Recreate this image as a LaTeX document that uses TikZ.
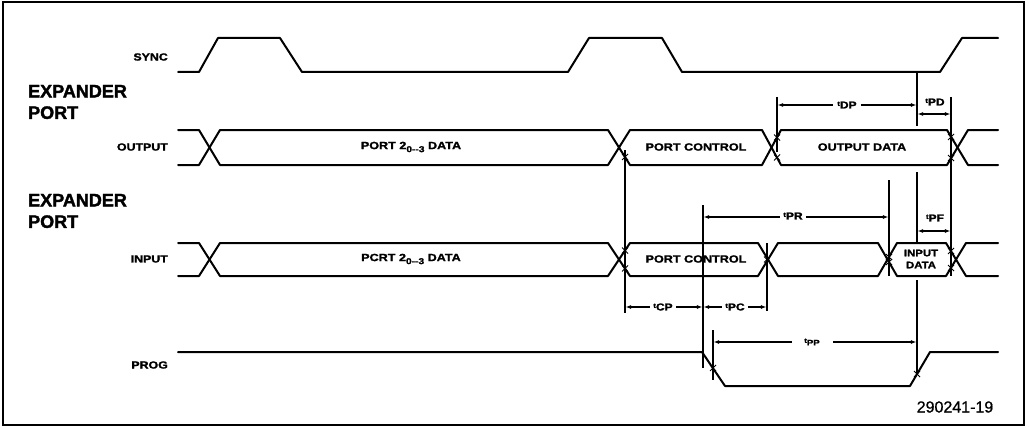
\documentclass[tikz,border=0pt]{standalone}
\usepackage{fontspec}
\setmainfont{Liberation Sans}
\newfontfamily\lblfont[FakeStretch=1.2,FakeBold=1.6]{Liberation Sans}
\newfontfamily\hdrfont[FakeBold=1.8]{Liberation Sans}
\newfontfamily\numfont[FakeBold=0.8]{Liberation Sans}
\usetikzlibrary{arrows.meta}
\tikzset{
  wave/.style={line width=2pt, line join=round, line cap=round},
  vline/.style={line width=1.2pt},
  dimboth/.style={line width=1.1pt, {Latex[length=5.5pt,width=4pt]}-{Latex[length=5.5pt,width=4pt]}},
  dimone/.style={line width=1.1pt, -{Latex[length=5.5pt,width=4pt]}},
  siglbl/.style={font=\lblfont\bfseries\fontsize{10.3}{11}\selectfont, inner sep=0pt, anchor=east},
  buslbl/.style={font=\lblfont\bfseries\fontsize{10.5}{12}\selectfont, inner sep=0pt, align=center},
  hdr/.style={font=\hdrfont\bfseries\fontsize{18}{21.5}\selectfont, inner sep=0pt, anchor=west, align=left},
  tlab/.style={font=\lblfont\bfseries\fontsize{10}{10}\selectfont, inner sep=0pt},
  xmk/.style={line width=0.9pt},
}
\newcommand\tsub[1]{\raisebox{2.5pt}{\fontsize{6.5}{6.5}\selectfont t}#1}
\newcommand\lowsub[1]{\raisebox{-3pt}{\fontsize{8.5}{8.5}\selectfont #1}}
\begin{document}
\begin{tikzpicture}[x=1pt,y=-1pt]
\useasboundingbox (0,0) rectangle (1029,428);
% frame
\draw[line width=1.8pt] (3,2) rectangle (1024,425);

% headings and signal names
\node[hdr] (hdr1) at (28,102) {EXPANDER\\PORT};
\node[hdr] (hdr2) at (28,211) {EXPANDER\\PORT};
\node[siglbl] (lsync) at (168,57) {SYNC};
\node[siglbl] (lout) at (168,147) {OUTPUT};
\node[siglbl] (lin) at (168,259) {INPUT};
\node[siglbl] (lprog) at (168,365) {PROG};

% SYNC
\draw[wave] (178,72) -- (199,72) -- (218,38) -- (280,38) -- (302,72) -- (568,72) -- (589,38) -- (662,38) -- (682,72) -- (940,72) -- (962,38) -- (998,38);

% OUTPUT bus
\draw[wave] (178,130) -- (199,130) -- (220,165) -- (608,165) -- (630,130) -- (762,130) -- (781,165) -- (947,165) -- (968,130) -- (998,130);
\draw[wave] (178,165) -- (199,165) -- (220,130) -- (608,130) -- (630,165) -- (762,165) -- (781,130) -- (947,130) -- (968,165) -- (998,165);
\node[buslbl] (od1) at (411,147) {PORT 2\lowsub{0--3} DATA};
\node[buslbl] (oc) at (696,147) {PORT CONTROL};
\node[buslbl] (odata) at (862,147) {OUTPUT DATA};

% INPUT bus
\draw[wave] (178,243) -- (199,243) -- (220,276) -- (608,276) -- (630,243) -- (758,243) -- (778,276) -- (878,276) -- (897,243) -- (946,243) -- (966,276) -- (998,276);
\draw[wave] (178,276) -- (199,276) -- (220,243) -- (608,243) -- (630,276) -- (758,276) -- (778,243) -- (878,243) -- (897,276) -- (946,276) -- (966,243) -- (998,243);
\node[buslbl] (id1) at (411,259) {PCRT 2\lowsub{0--3} DATA};
\node[buslbl] (ic) at (696,259) {PORT CONTROL};
\node[buslbl, font=\lblfont\bfseries\fontsize{9.5}{12}\selectfont] (idata) at (921,259) {INPUT\\DATA};

% PROG
\draw[wave] (178,352) -- (702,352) -- (725,386) -- (910,386) -- (930,352) -- (998,352);

% vertical reference lines
\coordinate (v1t) at (625,150); \coordinate (v1b) at (625,313);
\coordinate (v2t) at (703,205); \coordinate (v2b) at (703,368);
\coordinate (v3t) at (767,243); \coordinate (v3b) at (767,311);
\coordinate (v4t) at (889,180); \coordinate (v4b) at (889,276);
\coordinate (v5a) at (917,72);  \coordinate (v5b) at (917,126);
\coordinate (v5c) at (917,172); \coordinate (v5d) at (917,243);
\coordinate (v5e) at (917,280); \coordinate (v5f) at (917,374);
\coordinate (v6t) at (951,97);  \coordinate (v6b) at (951,276);
\coordinate (v7t) at (777,97);  \coordinate (v7b) at (777,152);
\coordinate (v8t) at (713,330); \coordinate (v8b) at (713,380);
\draw[vline] (v1t) -- (v1b);
\draw[vline] (v2t) -- (v2b);
\draw[vline] (v3t) -- (v3b);
\draw[vline] (v4t) -- (v4b);
\draw[vline] (v5a) -- (v5b);
\draw[vline] (v5c) -- (v5d);
\draw[vline] (v5e) -- (v5f);
\draw[vline] (v6t) -- (v6b);
\draw[vline] (v7t) -- (v7b);
\draw[vline] (v8t) -- (v8b);

% cross marks
\foreach \p in {(625,157),(625,250.5),(625,268.5),(777,157.5),(777,137.5),(767,259.5),(889,257),(889,262),(951,137),(951,158),(951,251),(951,268),(713,368),(917,374)}
  \draw[xmk] \p +(-3,-3) -- +(3,3) \p +(-3,3) -- +(3,-3);

% timing labels and arrows
\node[tlab] (tdp) at (847,105) {\tsub{DP}};
\draw[dimone] (tdp.west) ++(-4,0) -- (777.6,105);
\draw[dimone] (tdp.east) ++(4,0) -- (916.4,105);

\node[tlab] (tpd) at (935,102) {\tsub{PD}};
\draw[dimboth] (917.6,114) -- (950.4,114);

\node[tlab] (tpr) at (793,216) {\tsub{PR}};
\draw[dimone] (tpr.west) ++(-3,1) -- (703.6,217);
\draw[dimone] (tpr.east) ++(3,1) -- (888.4,217);

\node[tlab] (tpf) at (935,218) {\tsub{PF}};
\draw[dimboth] (917.6,231) -- (950.4,231);

\node[tlab] (tcp) at (663,307) {\tsub{CP}};
\draw[dimone] (tcp.west) ++(-3,0) -- (625.6,307);
\draw[dimone] (tcp.east) ++(3,0) -- (702.4,307);

\node[tlab] (tpc) at (735,307) {\tsub{PC}};
\draw[dimone] (tpc.west) ++(-3,0) -- (703.6,307);
\draw[dimone] (tpc.east) ++(3,0) -- (766.4,307);

\node[tlab, font=\lblfont\bfseries\fontsize{8}{8}\selectfont] (tpp) at (812,342) {\tsub{PP}};
\draw[dimone] (792,342) -- (713.6,342);
\draw[dimone] (833,342) -- (916.4,342);

% figure number
\node[font=\numfont\fontsize{16}{16}\selectfont, inner sep=0pt] (fig) at (955,407) {290241-19};
\end{tikzpicture}
\end{document}
